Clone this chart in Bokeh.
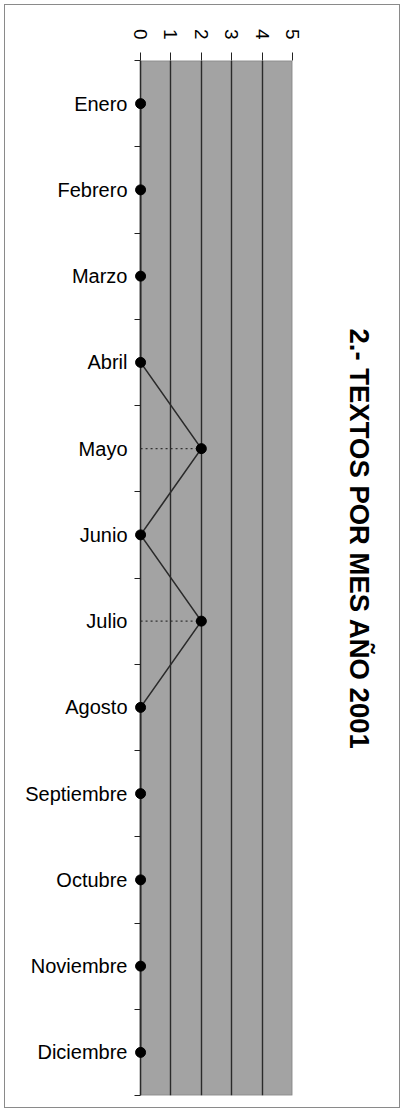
import math
from bokeh.plotting import figure
from bokeh.models import Range1d, FixedTicker, Title, BoxAnnotation, InlineStyleSheet
from bokeh.embed import file_html
from bokeh.resources import INLINE

months = ["Enero", "Febrero", "Marzo", "Abril", "Mayo", "Junio", "Julio",
          "Agosto", "Septiembre", "Octubre", "Noviembre", "Diciembre"]
textos = [0, 0, 0, 0, 2, 0, 2, 0, 0, 0, 0, 0]
x_ticks = [0, 1, 2, 3, 4, 5]
title_text = "2.- TEXTOS POR MES AÑO 2001"

FONT = "Liberation Sans"
pos = [i + 0.5 for i in range(len(months))]

frame_css = InlineStyleSheet(css="""
:host::after {
  content: "";
  position: absolute;
  left: 4px; top: 4px; right: 4px; bottom: 4px;
  border: 1px solid #8a8a8a;
  pointer-events: none;
  z-index: 100;
}
""")

p = figure(width=404, height=1112, output_backend="svg", toolbar_location=None,
           x_range=Range1d(-0.2, 5), y_range=Range1d(len(months), 0),
           x_axis_location="above",
           min_border_left=134, min_border_right=112,
           min_border_top=60, min_border_bottom=17,
           stylesheets=[frame_css])

p.background_fill_color = "white"
p.border_fill_color = "white"
p.outline_line_color = None

# plot area (gray) from 0 to 5, drawn beneath grid and glyphs
area = BoxAnnotation(left=0, right=5, fill_color="#a3a3a3", fill_alpha=1.0,
                     line_color="#1a1a1a", line_width=1.6, level="image")
p.add_layout(area)

# top value axis
p.xaxis.ticker = FixedTicker(ticks=x_ticks)
p.xaxis.major_label_orientation = -math.pi / 2
p.xaxis.major_label_text_font = FONT
p.xaxis.major_label_text_font_size = "19px"
p.xaxis.major_label_text_color = "black"
p.xaxis.major_label_standoff = 13
p.xaxis.major_tick_out = 8
p.xaxis.major_tick_in = 0
p.xaxis.major_tick_line_color = "#222222"
p.xaxis.minor_tick_line_color = None
p.xaxis.axis_line_color = None

# left category axis
p.yaxis.ticker = FixedTicker(ticks=pos, minor_ticks=list(range(len(months) + 1)))
p.yaxis.major_label_overrides = {pp: m for pp, m in zip(pos, months)}
p.yaxis.major_label_text_font = FONT
p.yaxis.major_label_text_font_size = "20px"
p.yaxis.major_label_text_color = "black"
p.yaxis.major_label_standoff = 7
p.yaxis.major_tick_out = 0
p.yaxis.major_tick_in = 0
p.yaxis.major_tick_line_color = None
p.yaxis.minor_tick_out = 0
p.yaxis.minor_tick_in = 6
p.yaxis.minor_tick_line_color = "#222222"
p.yaxis.axis_line_color = None

p.ygrid.visible = False
p.xgrid.ticker = FixedTicker(ticks=x_ticks)
p.xgrid.grid_line_color = "#2a2a2a"
p.xgrid.grid_line_width = 1.4

# drop lines for non-zero values
dx = [v for v in textos if v > 0]
dy = [pos[i] for i, v in enumerate(textos) if v > 0]
p.segment(x0=[0] * len(dx), y0=dy, x1=dx, y1=dy, line_color="#333333",
          line_width=1.2, line_dash="2 3")

p.line(textos, pos, line_color="#2a2a2a", line_width=1.6)
p.scatter(textos, pos, size=10, fill_color="black", line_color="black")

# spacer panel between the plot area and the title
p.add_layout(Title(text=" ", text_font=FONT, text_font_size="10px",
                   standoff=38), "right")
p.add_layout(Title(text=title_text, align="left", text_font=FONT,
                   text_font_size="27.5px", text_font_style="bold",
                   text_color="black", standoff=0, offset=268), "right")

open("out.html", "w").write(file_html(p, INLINE))
